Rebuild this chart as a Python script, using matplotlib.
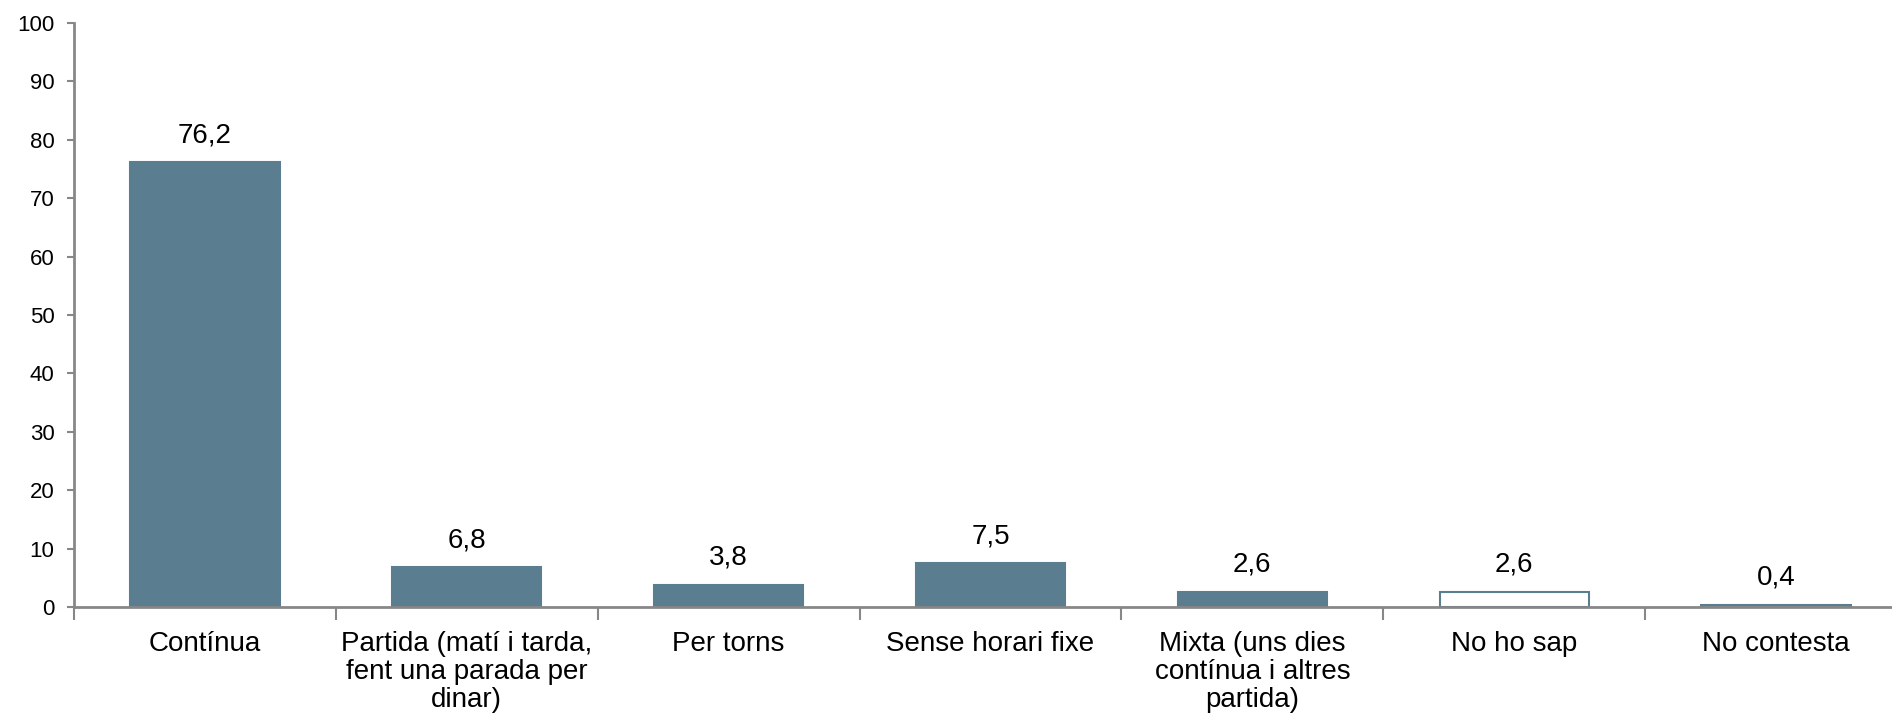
import matplotlib
matplotlib.use("Agg")
import matplotlib.pyplot as plt
import numpy as np

plt.rcParams['font.family'] = ['Liberation Sans', 'DejaVu Sans']

categories = ["Contínua", "Partida (matí i tarda,\nfent una parada per\ndinar)", "Per torns",
              "Sense horari fixe", "Mixta (uns dies\ncontínua i altres\npartida)", "No ho sap",
              "No contesta"]
values = [76.2, 6.8, 3.8, 7.5, 2.6, 2.6, 0.4]
labels = ["76,2", "6,8", "3,8", "7,5", "2,6", "2,6", "0,4"]

bar_color = "#5b7d90"
axis_color = "#878787"

fig = plt.figure(figsize=(18.92, 7.25), dpi=100)
ax = fig.add_axes([74 / 1892, 1 - 607 / 725, 1833 / 1892, 584 / 725])

x = np.arange(len(values))
fills = [bar_color] * len(values)
fills[5] = "white"
bars = ax.bar(x, values, width=0.57, color=fills, edgecolor=bar_color, linewidth=1.5, zorder=2)

for xi, v, lab in zip(x, values, labels):
    ax.annotate(lab, (xi, v), xytext=(0, 10), textcoords="offset points",
                ha="center", va="bottom", fontsize=20)

ax.set_xlim(-0.5, len(values) - 0.5)
ax.set_ylim(0, 100)
ax.set_yticks(range(0, 101, 10))
ax.tick_params(axis="y", labelsize=16, length=5, width=1.5, color=axis_color, pad=9)

# boundaries get the tick marks, centers get the labels
ax.set_xticks(np.arange(-0.5, len(values), 1.0))
ax.set_xticklabels([])
ax.tick_params(axis="x", which="major", length=9, width=1.5, color=axis_color)
ax.set_xticks(x, minor=True)
ax.set_xticklabels(categories, minor=True, fontsize=20, linespacing=1.12)
ax.tick_params(axis="x", which="minor", length=0, pad=17)

for s in ["top", "right"]:
    ax.spines[s].set_visible(False)
for s in ["left", "bottom"]:
    ax.spines[s].set_color(axis_color)
    ax.spines[s].set_linewidth(2)

fig.savefig("out.png", dpi=100)
